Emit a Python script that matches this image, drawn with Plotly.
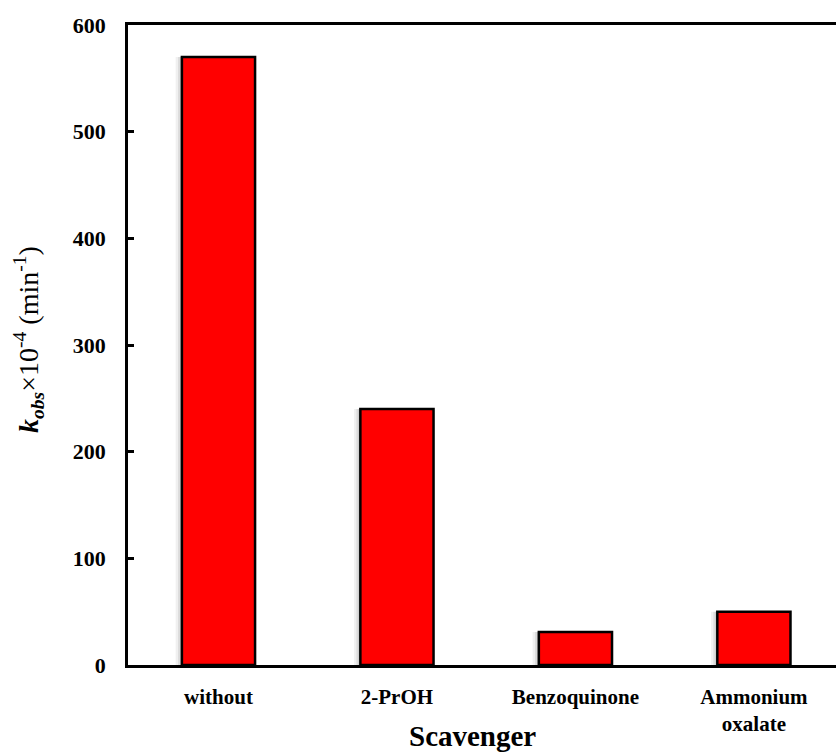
import plotly.graph_objects as go

categories = ["without", "2-PrOH", "Benzoquinone", "Ammonium<br>oxalate"]
k_obs = [570, 240, 31, 50]
y_ticks = [0, 100, 200, 300, 400, 500, 600]

FONT = "Liberation Serif"
W, H = 836, 753
L, R, T, B = 128, 0, 25, 88

x_pos = list(range(len(categories)))

fig = go.Figure()

# soft drop shadow on the left side of each bar
for off, alpha in [(-0.035, 0.06), (-0.022, 0.08), (-0.011, 0.10)]:
    fig.add_trace(go.Bar(
        x=x_pos, y=k_obs, width=0.41, offset=-0.205 + off,
        marker=dict(color=f"rgba(0,0,0,{alpha})", line=dict(width=0)),
        hoverinfo="skip", showlegend=False,
    ))

fig.add_trace(go.Bar(
    x=x_pos, y=k_obs, width=0.41, offset=-0.205,
    marker=dict(color="#ff0000", line=dict(color="black", width=2.5)),
    showlegend=False,
))

fig.update_layout(
    width=W, height=H,
    margin=dict(l=L, r=R, t=T, b=B),
    paper_bgcolor="white", plot_bgcolor="white",
    barmode="overlay",
    font=dict(family=FONT, color="black"),
)

fig.update_xaxes(
    range=[-0.507, 3.46],
    tickvals=x_pos,
    ticktext=[f"<b>{c}</b>" for c in categories],
    tickfont=dict(family=FONT, size=21, color="black"),
    showline=True, linecolor="black", linewidth=2.5, mirror=True,
    ticks="", showgrid=False, zeroline=False,
    ticklabelstandoff=11,
)

fig.update_yaxes(
    range=[0, 600],
    tickvals=y_ticks,
    ticktext=[f"<b>{v}</b>" for v in y_ticks],
    tickfont=dict(family=FONT, size=22, color="black"),
    showline=True, linecolor="black", linewidth=2.5,
    ticks="inside", ticklen=6, tickwidth=2.5, tickcolor="black",
    showgrid=False, zeroline=False,
    ticklabelstandoff=15,
)

pw = W - L - R
fig.add_annotation(
    text="<b><i>k</i><sub><i>obs</i></sub></b>×10<sup>-4</sup> (min<sup>-1</sup>)",
    xref="paper", yref="paper",
    x=(28 - L) / pw, y=(665 - 340) / (H - T - B), xanchor="center", yanchor="middle",
    textangle=-90, showarrow=False,
    font=dict(family=FONT, size=28, color="black"),
)

fig.add_annotation(
    text="<b>Scavenger</b>",
    xref="paper", yref="paper",
    x=(472 - L) / pw, y=-(736 - (H - B)) / (H - T - B),
    xanchor="center", yanchor="middle", showarrow=False,
    font=dict(family=FONT, size=29, color="black"),
)

fig.write_html("out.html")
